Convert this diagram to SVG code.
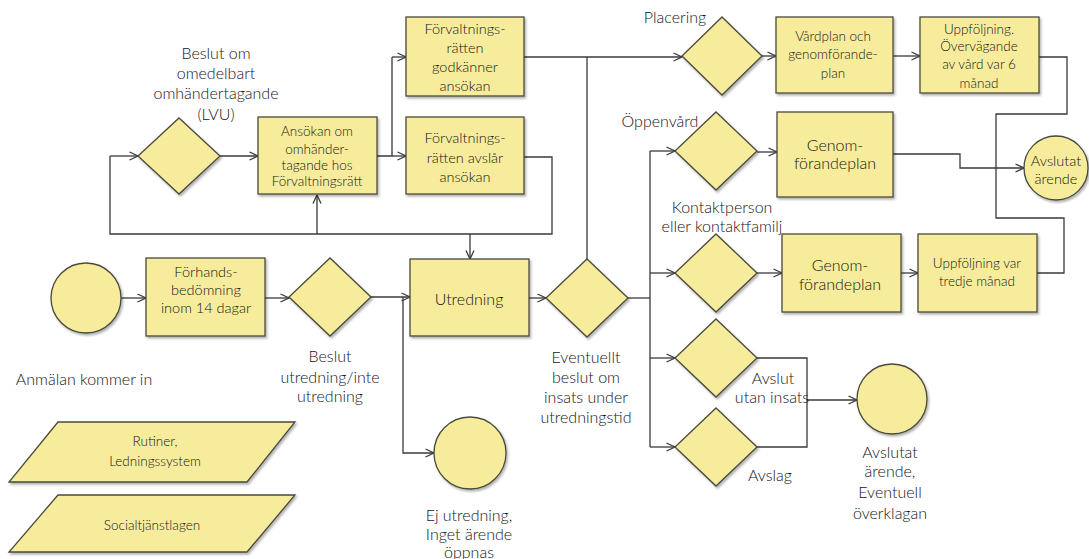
<svg xmlns="http://www.w3.org/2000/svg" width="1089" height="559" viewBox="0 0 1089 559">
  <style>
    .shape { fill: #f7ec9b; stroke: #4a4a3c; stroke-width: 1.3; filter: url(#shadow); }
    .wire { fill: none; stroke: #3a3a3a; stroke-width: 1.3; }
    .arrow { marker-end: url(#open); }
    text { font-family: Lato, "Liberation Sans", sans-serif; font-size: 14.5px; font-weight: 300; fill: #151515; text-anchor: middle; dominant-baseline: central; }
    text.sm { font-size: 13.5px; }
    text.lbl { font-size: 16px; }
  </style>
  <defs>
    <filter id="shadow" x="-10%" y="-10%" width="130%" height="130%">
      <feDropShadow dx="1.5" dy="2" stdDeviation="1.2" flood-color="#000" flood-opacity="0.3"/>
    </filter>
    <marker id="open" viewBox="0 0 10 10" refX="9.5" refY="5" markerWidth="10" markerHeight="10" markerUnits="userSpaceOnUse" orient="auto">
      <path d="M1,1 L9.5,5 L1,9" fill="none" stroke="#3a3a3a" stroke-width="1.3"/>
    </marker>
  </defs>
  <rect width="1089" height="559" fill="#ffffff"/>

  <!-- connectors -->
  <g id="connectors">
    <path class="wire arrow" d="M121,298 H146"/>
    <path class="wire arrow" d="M265,298 H289"/>
    <path class="wire arrow" d="M371,297 H410"/>
    <path class="wire arrow" d="M403,297 V453 H434"/>
    <path class="wire arrow" d="M529,298 H546"/>
    <path class="wire" d="M627,298 H650"/>
    <path class="wire" d="M650,151 V447"/>
    <path class="wire arrow" d="M650,151 H675"/>
    <path class="wire arrow" d="M650,273 H675"/>
    <path class="wire arrow" d="M650,358 H675"/>
    <path class="wire arrow" d="M650,447 H675"/>
    <path class="wire" d="M587,259 V57"/>
    <path class="wire arrow" d="M524,57 H682"/>
    <path class="wire arrow" d="M762,56 H776"/>
    <path class="wire arrow" d="M893,56 H920"/>
    <path class="wire" d="M1039,57 H1067 V114 H996 V218 H1064 V273 H1037"/>
    <path class="wire arrow" d="M893,154 H960 V168 H1024" stroke-width="1.6"/>
    <path class="wire arrow" d="M757,152 H777"/>
    <path class="wire arrow" d="M757,273 H782"/>
    <path class="wire arrow" d="M901,273 H918"/>
    <path class="wire" d="M757,358 H807 V447 H757"/>
    <path class="wire arrow" d="M807,400 H857"/>
    <path class="wire arrow" d="M110,156 H138"/>
    <path class="wire arrow" d="M220,156 H258"/>
    <path class="wire" d="M377,156 H392 V57"/>
    <path class="wire arrow" d="M392,57 H406"/>
    <path class="wire arrow" d="M392,156 H406"/>
    <path class="wire" d="M524,157 H552 V234 H110 V156"/>
    <path class="wire arrow" d="M317,234 V195"/>
    <path class="wire arrow" d="M470,234 V259"/>
  </g>

  <!-- nodes -->
  <g id="lvu-decision">
    <polygon class="shape" points="179,118 220,156 179,194 138,156"/>
    <text class="lbl" x="216" y="52">Beslut om</text>
    <text class="lbl" x="216" y="72">omedelbart</text>
    <text class="lbl" x="216" y="92">omhändertagande</text>
    <text class="lbl" x="216" y="113">(LVU)</text>
  </g>
  <g id="ansokan">
    <rect class="shape" x="258" y="117" width="119" height="77"/>
    <text class="sm" x="317" y="131">Ansökan om</text>
    <text class="sm" x="317" y="149">omhänder-</text>
    <text class="sm" x="317" y="165">tagande hos</text>
    <text class="sm" x="317" y="181">Förvaltningsrätt</text>
  </g>
  <g id="godkanner">
    <rect class="shape" x="406" y="17" width="118" height="79"/>
    <text x="465" y="28">Förvaltnings-</text>
    <text x="465" y="47">rätten</text>
    <text x="465" y="66">godkänner</text>
    <text x="465" y="85">ansökan</text>
  </g>
  <g id="avslar">
    <rect class="shape" x="406" y="117" width="118" height="77"/>
    <text x="465" y="137">Förvaltnings-</text>
    <text x="465" y="157">rätten avslår</text>
    <text x="465" y="176">ansökan</text>
  </g>
  <g id="anmalan">
    <circle class="shape" cx="86" cy="298" r="35"/>
    <text class="lbl" x="84" y="378">Anmälan kommer in</text>
  </g>
  <g id="forhandsbedomning">
    <rect class="shape" x="146" y="258" width="119" height="78"/>
    <text x="206" y="271">Förhands-</text>
    <text x="206" y="289">bedömning</text>
    <text x="206" y="307">inom 14 dagar</text>
  </g>
  <g id="beslut-utredning">
    <polygon class="shape" points="330,258 371,297 330,336 289,297"/>
    <text class="lbl" x="330" y="355">Beslut</text>
    <text class="lbl" x="330" y="376">utredning/inte</text>
    <text class="lbl" x="330" y="395">utredning</text>
  </g>
  <g id="utredning">
    <rect class="shape" x="410" y="259" width="119" height="77"/>
    <text class="lbl" x="469" y="298">Utredning</text>
  </g>
  <g id="ej-utredning">
    <circle class="shape" cx="470" cy="453" r="36"/>
    <text class="lbl" x="469" y="514">Ej utredning,</text>
    <text class="lbl" x="469" y="533">Inget ärende</text>
    <text class="lbl" x="469" y="551">öppnas</text>
  </g>
  <g id="eventuellt-beslut">
    <polygon class="shape" points="587,259 628,298 587,337 546,298"/>
    <text class="lbl" x="586" y="356">Eventuellt</text>
    <text class="lbl" x="586" y="376">beslut om</text>
    <text class="lbl" x="586" y="396">insats under</text>
    <text class="lbl" x="586" y="416">utredningstid</text>
  </g>
  <g id="placering">
    <polygon class="shape" points="722,17 762,56 722,95 682,56"/>
    <text class="lbl" x="675" y="16">Placering</text>
  </g>
  <g id="vardplan">
    <rect class="shape" x="776" y="17" width="117" height="76"/>
    <text class="sm" x="833" y="36">Vårdplan och</text>
    <text class="sm" x="833" y="54">genomförande-</text>
    <text class="sm" x="833" y="73">plan</text>
  </g>
  <g id="uppfoljning-6">
    <rect class="shape" x="920" y="17" width="119" height="76"/>
    <text class="sm" x="979" y="29">Uppföljning.</text>
    <text class="sm" x="979" y="46">Övervägande</text>
    <text class="sm" x="979" y="64">av vård var 6</text>
    <text class="sm" x="979" y="83">månad</text>
  </g>
  <g id="oppenvard">
    <polygon class="shape" points="716,112 757,151 716,190 675,151"/>
    <text class="lbl" x="660" y="120">Öppenvård</text>
  </g>
  <g id="genomforandeplan-1">
    <rect class="shape" x="777" y="112" width="116" height="85"/>
    <text class="lbl" x="835" y="144">Genom-</text>
    <text class="lbl" x="835" y="162">förandeplan</text>
  </g>
  <g id="avslutat-arende">
    <circle class="shape" cx="1056" cy="168" r="32"/>
    <text x="1056" y="160">Avslutat</text>
    <text x="1056" y="178">ärende</text>
  </g>
  <g id="kontaktperson">
    <polygon class="shape" points="716,234 757,273 716,312 675,273"/>
    <text class="lbl" x="722" y="206">Kontaktperson</text>
    <text class="lbl" x="722" y="225">eller kontaktfamilj</text>
  </g>
  <g id="genomforandeplan-2">
    <rect class="shape" x="782" y="234" width="119" height="78"/>
    <text class="lbl" x="840" y="264">Genom-</text>
    <text class="lbl" x="840" y="283">förandeplan</text>
  </g>
  <g id="uppfoljning-3">
    <rect class="shape" x="918" y="234" width="119" height="78"/>
    <text class="sm" x="977" y="263">Uppföljning var</text>
    <text class="sm" x="977" y="281">tredje månad</text>
  </g>
  <g id="avslut">
    <polygon class="shape" points="716,319 757,358 716,397 675,358"/>
    <text class="lbl" x="773" y="377">Avslut</text>
    <text class="lbl" x="772" y="396">utan insats</text>
  </g>
  <g id="avslag">
    <polygon class="shape" points="716,408 757,447 716,486 675,447"/>
    <text class="lbl" x="770" y="474">Avslag</text>
  </g>
  <g id="avslutat-overklagan">
    <circle class="shape" cx="892" cy="399" r="35"/>
    <text class="lbl" x="890" y="451">Avslutat</text>
    <text class="lbl" x="890" y="470">ärende,</text>
    <text class="lbl" x="890" y="491">Eventuell</text>
    <text class="lbl" x="890" y="512">överklagan</text>
  </g>
  <g id="rutiner">
    <polygon class="shape" points="58,422 295,422 247,482 9,482"/>
    <text class="sm" x="155" y="441">Rutiner,</text>
    <text class="sm" x="155" y="461">Ledningssystem</text>
  </g>
  <g id="socialtjanstlagen">
    <polygon class="shape" points="58,495 295,495 247,552 9,552"/>
    <text class="sm" x="152" y="525">Socialtjänstlagen</text>
  </g>
</svg>
